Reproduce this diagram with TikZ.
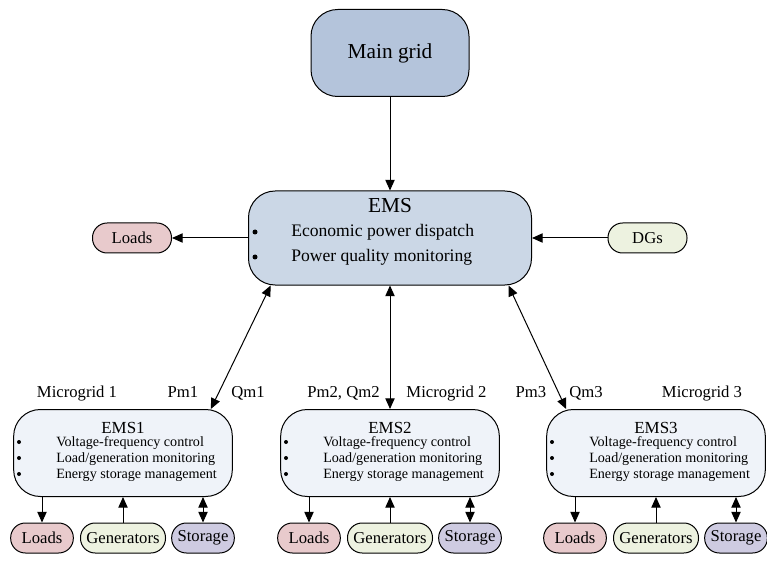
\documentclass[tikz,border=0pt]{standalone}
\usepackage{fontspec}
\setmainfont{Liberation Serif}
\usetikzlibrary{arrows.meta}

\definecolor{gridblue}{HTML}{B4C4DB}
\definecolor{emsblue}{HTML}{CBD7E6}
\definecolor{mgblue}{HTML}{EFF3F9}
\definecolor{loadpink}{HTML}{E8CACC}
\definecolor{gengreen}{HTML}{EDF2E0}
\definecolor{storeviolet}{HTML}{CECBE1}

\tikzset{
  box/.style={draw, line width=0.75pt, rounded corners=20pt, inner sep=0pt},
  smallbox/.style={draw, line width=0.75pt, rounded corners=11pt, minimum height=22.5pt, inner sep=0pt, font=\fontsize{12.5}{14}\selectfont},
  link/.style={line width=0.75pt, -{Triangle[length=8pt,width=7pt]}},
  duplex/.style={line width=0.75pt, {Triangle[length=8pt,width=7pt]}-{Triangle[length=8pt,width=7pt]}},
  tag/.style={font=\fontsize{12.5}{14}\selectfont, anchor=base},
  item/.style={font=\fontsize{10.6}{12}\selectfont, anchor=base west, inner sep=0pt},
}

\begin{document}
\begin{tikzpicture}[x=0.75pt, y=-0.75pt]
\useasboundingbox (0,0) rectangle (767,577);

%Main grid
\node[box, fill=gridblue, minimum width=118.5pt, minimum height=65.25pt, font=\fontsize{16}{19}\selectfont] (main) at (390,53) {Main grid};

%EMS
\node[box, fill=emsblue, minimum width=212.25pt, minimum height=70.5pt] (ems) at (390,238) {};
\node[anchor=base, font=\fontsize{16}{19}\selectfont] (emstitle) at (390,213) {EMS};
\node[anchor=base west, inner sep=0pt, font=\fontsize{13.2}{15}\selectfont] (emsl1) at (291,237) {Economic power dispatch};
\node[anchor=base west, inner sep=0pt, font=\fontsize{13.2}{15}\selectfont] (emsl2) at (291,262) {Power quality monitoring};
\fill (255,232) circle (2.5);
\fill (255,257) circle (2.5);

%%Side nodes
\node[smallbox, fill=loadpink, minimum width=59.25pt] (loadsT) at (132,238) {Loads};
\node[smallbox, fill=gengreen, minimum width=59.25pt] (dgs) at (647.5,238) {DGs};

\draw[link] (main) -- (ems);
\draw[link] (ems) -- (loadsT);
\draw[link] (dgs) -- (ems);

% Microgrids
\foreach \i/\cx in {1/123, 2/390, 3/656} {
  \node[box, fill=mgblue, minimum width=164pt, minimum height=65.25pt] (ems\i) at (\cx,453) {};
  \node[anchor=base, font=\fontsize{12.7}{15}\selectfont] (ems\i title) at (\cx,433) {EMS\i};
  \node[item] (ems\i l1) at (\cx-67,446) {Voltage-frequency control};
  \node[item] (ems\i l2) at (\cx-67,462) {Load/generation monitoring};
  \node[item] (ems\i l3) at (\cx-67,478) {Energy storage management};
  \fill (\cx-104,442) circle (2);
  \fill (\cx-104,458) circle (2);
  \fill (\cx-104,474) circle (2);

  \node[smallbox, fill=loadpink, minimum width=47pt] (loads\i) at (\cx-81,538) {Loads};
  \node[smallbox, fill=gengreen, minimum width=63.75pt] (gen\i) at (\cx,538) {Generators};
  \node[smallbox, fill=storeviolet, minimum width=47pt] (store\i) at (\cx+80,538) {Storage};
  \draw[link] (loads\i.north |- ems\i.south) -- (loads\i);
  \draw[link] (gen\i) -- (ems\i);
  \draw[duplex] (store\i.north |- ems\i.south) -- (store\i);
}

%%Links to microgrids
\draw[duplex] ([xshift=17pt]ems.south west) -- ([xshift=-16.5pt]ems1.north east);
\draw[duplex] (ems) -- (ems2);
\draw[duplex] ([xshift=-17.6pt]ems.south east) -- ([xshift=15pt]ems3.north west);

%%Labels
\node[tag] (mg1) at (77,397) {Microgrid 1};
\node[tag] (pm1) at (183,397) {Pm1};
\node[tag] (qm1) at (248,397) {Qm1};
\node[tag] (pq2) at (343.5,397) {Pm2, Qm2};
\node[tag] (mg2) at (446.5,397) {Microgrid 2};
\node[tag] (pm3) at (531,397) {Pm3};
\node[tag] (qm3) at (586,397) {Qm3};
\node[tag] (mg3) at (702,397) {Microgrid 3};
\end{tikzpicture}
\end{document}
